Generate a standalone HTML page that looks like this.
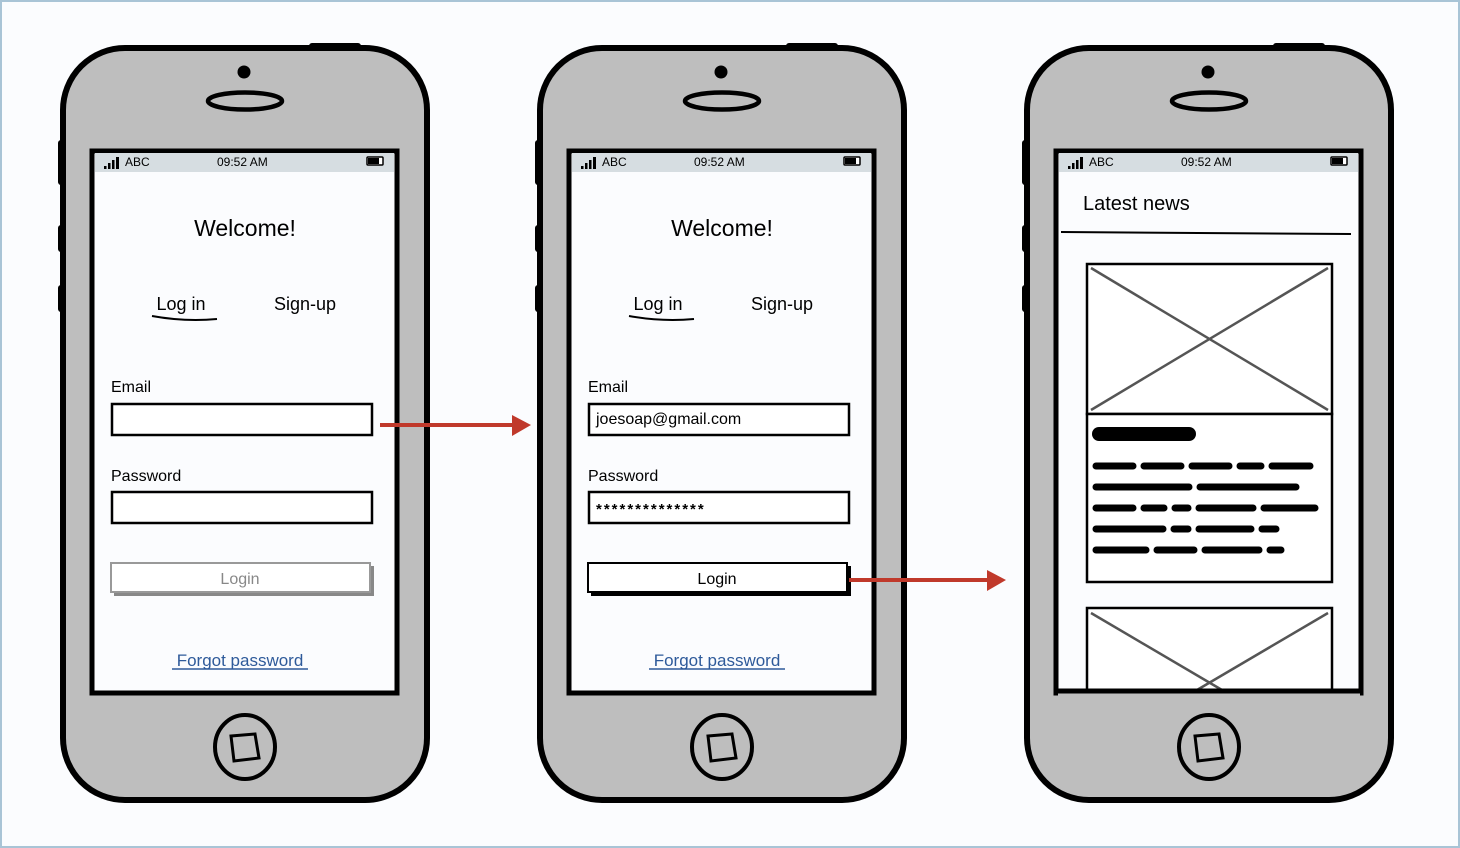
<!DOCTYPE html>
<html><head><meta charset="utf-8"><style>
html,body{margin:0;padding:0;background:#fbfcfe;}
svg{display:block;font-family:"Liberation Sans",sans-serif;}
</style></head><body>
<svg width="1460" height="848" viewBox="0 0 1460 848" xmlns="http://www.w3.org/2000/svg">
<rect x="1" y="1" width="1458" height="846" fill="#fbfcfe" stroke="#a9c4d6" stroke-width="2"/>
<defs>
<g id="shell">
  <rect x="309" y="43" width="52" height="8" rx="3" fill="#000"/>
  <rect x="58" y="140" width="8" height="45" rx="3" fill="#000"/>
  <rect x="58" y="225" width="8" height="27" rx="3" fill="#000"/>
  <rect x="58" y="285" width="8" height="27" rx="3" fill="#000"/>
  <rect x="63" y="48" width="364" height="752" rx="62" fill="#bebebe" stroke="#000" stroke-width="6"/>
  <circle cx="244" cy="72" r="6.5" fill="#000"/>
  <ellipse cx="245" cy="101" rx="37" ry="8.5" fill="none" stroke="#000" stroke-width="4.5"/>
  <rect x="92" y="151" width="305" height="542" fill="#fbfcfe" stroke="#000" stroke-width="5"/>
  <rect x="95" y="153" width="299" height="19" fill="#d6dde1"/>
  <rect x="104" y="166" width="2.5" height="3" fill="#000"/>
  <rect x="108" y="163" width="2.5" height="6" fill="#000"/>
  <rect x="112" y="160" width="2.5" height="9" fill="#000"/>
  <rect x="116" y="157" width="3" height="12" fill="#000"/>
  <text x="125" y="166" font-size="12" fill="#000">ABC</text>
  <text x="217" y="166" font-size="12" fill="#000">09:52 AM</text>
  <rect x="367" y="157" width="16" height="8" rx="1" fill="#fff" stroke="#000" stroke-width="1.5"/>
  <rect x="368" y="158" width="11" height="6" fill="#000"/>
  <ellipse cx="245" cy="747" rx="30" ry="32" fill="none" stroke="#000" stroke-width="4"/>
  <path d="M231 736 L255 734 L259 758 L234 761 Z" fill="none" stroke="#000" stroke-width="3"/>
</g>
</defs>

<!-- Phone 1 -->
<use href="#shell"/>
<text x="245" y="236" font-size="23" text-anchor="middle">Welcome!</text>
<text x="181" y="310" font-size="18" text-anchor="middle">Log in</text>
<path d="M152 316 Q185 322 217 319" fill="none" stroke="#000" stroke-width="2"/>
<text x="305" y="310" font-size="18" text-anchor="middle">Sign-up</text>
<text x="111" y="392" font-size="16">Email</text>
<rect x="112" y="404" width="260" height="31" fill="#fff" stroke="#000" stroke-width="2.5"/>
<text x="111" y="481" font-size="16">Password</text>
<rect x="112" y="492" width="260" height="31" fill="#fff" stroke="#000" stroke-width="2.5"/>
<rect x="114" y="566" width="260" height="30" fill="#888"/>
<rect x="111" y="563" width="259" height="29" fill="#fff" stroke="#999" stroke-width="2"/>
<text x="240" y="584" font-size="16" text-anchor="middle" fill="#888">Login</text>
<text x="240" y="666" font-size="17" text-anchor="middle" fill="#2e5a9a">Forgot password</text>
<line x1="172" y1="669" x2="308" y2="669" stroke="#2e5a9a" stroke-width="1.5"/>

<!-- arrow 1 -->
<line x1="380" y1="425" x2="516" y2="425" stroke="#c0392b" stroke-width="4"/>
<path d="M512 415 L531 425 L512 436 Z" fill="#c0392b"/>

<!-- Phone 2 -->
<g transform="translate(477,0)">
<use href="#shell"/>
<text x="245" y="236" font-size="23" text-anchor="middle">Welcome!</text>
<text x="181" y="310" font-size="18" text-anchor="middle">Log in</text>
<path d="M152 316 Q185 322 217 319" fill="none" stroke="#000" stroke-width="2"/>
<text x="305" y="310" font-size="18" text-anchor="middle">Sign-up</text>
<text x="111" y="392" font-size="16">Email</text>
<rect x="112" y="404" width="260" height="31" fill="#fff" stroke="#000" stroke-width="2.5"/>
<text x="119" y="424" font-size="16">joesoap@gmail.com</text>
<text x="111" y="481" font-size="16">Password</text>
<rect x="112" y="492" width="260" height="31" fill="#fff" stroke="#000" stroke-width="2.5"/>
<text x="119" y="514" font-size="15" font-weight="bold" letter-spacing="2">**************</text>
<rect x="114" y="566" width="260" height="30" fill="#000"/>
<rect x="111" y="563" width="259" height="29" fill="#fff" stroke="#000" stroke-width="2"/>
<text x="240" y="584" font-size="16" text-anchor="middle">Login</text>
<text x="240" y="666" font-size="17" text-anchor="middle" fill="#2e5a9a">Forgot password</text>
<line x1="172" y1="669" x2="308" y2="669" stroke="#2e5a9a" stroke-width="1.5"/>
</g>

<!-- arrow 2 -->
<line x1="849" y1="580" x2="990" y2="580" stroke="#c0392b" stroke-width="4"/>
<path d="M987 570 L1006 580 L987 591 Z" fill="#c0392b"/>

<!-- Phone 3 -->
<g transform="translate(964,0)">
<use href="#shell"/>
</g>
<text x="1083" y="210" font-size="20">Latest news</text>
<path d="M1061 232 Q1200 233 1351 234" fill="none" stroke="#000" stroke-width="2"/>
<rect x="1087" y="264" width="245" height="150" fill="#fff" stroke="#000" stroke-width="2.5"/>
<line x1="1091" y1="268" x2="1328" y2="410" stroke="#555" stroke-width="2.5"/>
<line x1="1328" y1="268" x2="1091" y2="410" stroke="#555" stroke-width="2.5"/>
<rect x="1087" y="414" width="245" height="168" fill="#fff" stroke="#000" stroke-width="2.5"/>
<line x1="1099" y1="434" x2="1189" y2="434" stroke="#000" stroke-width="14" stroke-linecap="round"/>
<g stroke="#000" stroke-width="7" stroke-linecap="round">
<path d="M1096 466H1133M1144 466H1181M1192 466H1229M1240 466H1261M1272 466H1310"/>
<path d="M1096 487H1189M1200 487H1296"/>
<path d="M1096 508H1133M1144 508H1164M1175 508H1188M1199 508H1253M1264 508H1315"/>
<path d="M1096 529H1163M1174 529H1188M1199 529H1251M1262 529H1276"/>
<path d="M1096 550H1146M1157 550H1194M1205 550H1259M1270 550H1281"/>
</g>
<rect x="1087" y="608" width="245" height="82" fill="#fff" stroke="#000" stroke-width="2.5"/>
<line x1="1091" y1="613" x2="1222" y2="690" stroke="#555" stroke-width="2.5"/>
<line x1="1328" y1="613" x2="1197" y2="690" stroke="#555" stroke-width="2.5"/>
<rect x="1058" y="692" width="302" height="8" fill="#bebebe"/>
<line x1="1056" y1="691" x2="1361" y2="691" stroke="#000" stroke-width="5"/>
</svg>
</body></html>
